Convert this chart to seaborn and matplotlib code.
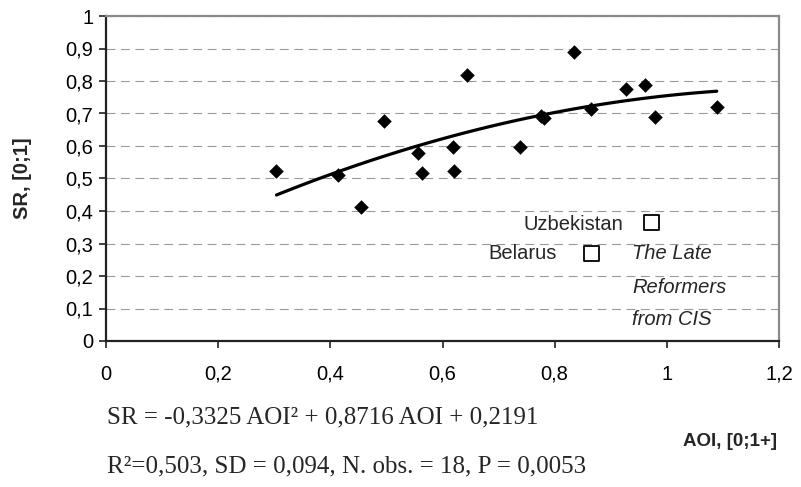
import matplotlib
matplotlib.use("Agg")
import matplotlib.pyplot as plt
import seaborn as sns
import numpy as np
from matplotlib.ticker import FuncFormatter, MultipleLocator

# data
aoi = [0.304, 0.414, 0.454, 0.496, 0.557, 0.564, 0.618, 0.621, 0.643,
       0.739, 0.776, 0.781, 0.834, 0.864, 0.928, 0.961, 0.979, 1.089]
sr = [0.523, 0.511, 0.413, 0.678, 0.579, 0.518, 0.598, 0.523, 0.818,
      0.598, 0.692, 0.685, 0.888, 0.714, 0.775, 0.788, 0.690, 0.719]

late_names = ['Uzbekistan', 'Belarus']
late_aoi = [0.973, 0.865]
late_sr = [0.365, 0.268]

eq_line1 = 'SR = -0,3325 AOI² + 0,8716 AOI + 0,2191'
eq_line2 = 'R²=0,503, SD = 0,094, N. obs. = 18, P = 0,0053'

sns.set_style("ticks")
plt.rcParams['font.family'] = ['Liberation Sans', 'DejaVu Sans']

W, H = 801, 487
fig = plt.figure(figsize=(W / 100, H / 100), dpi=100)
ax = fig.add_axes([106 / W, 1 - 341 / H, (779 - 106) / W, (341 - 16) / H])

# quadratic trend over the observations
sns.regplot(x=aoi, y=sr, order=2, ci=None, scatter=False, ax=ax,
            line_kws=dict(color='black', linewidth=2.3))
sns.scatterplot(x=aoi, y=sr, marker='D', s=55, color='black',
                edgecolor='black', linewidth=0, ax=ax, zorder=3)
sns.scatterplot(x=late_aoi, y=late_sr, marker='s', s=115, facecolor='none',
                edgecolor='black', linewidth=1.3, ax=ax, zorder=3)

# labels next to the late reformers
ax.text(0.922, 0.358, late_names[0], ha='right', va='center', fontsize=14.5)
ax.text(0.804, 0.270, late_names[1], ha='right', va='center', fontsize=14.5)
for txt, yy in zip(['The Late', 'Reformers', 'from CIS'], [0.270, 0.166, 0.066]):
    ax.text(0.938, yy, txt, ha='left', va='center', fontsize=14.5, style='italic')

ax.set_xlim(0, 1.2)
ax.set_ylim(0, 1)
ax.xaxis.set_major_locator(MultipleLocator(0.2))
ax.yaxis.set_major_locator(MultipleLocator(0.1))
fmt = FuncFormatter(lambda v, p: ('%g' % round(v, 2)).replace('.', ','))
ax.xaxis.set_major_formatter(fmt)
ax.yaxis.set_major_formatter(fmt)
ax.tick_params(axis='both', direction='out', length=5, width=1.2,
               color='#222222', labelsize=14.5, labelcolor='black')
ax.tick_params(axis='x', pad=12)
ax.tick_params(axis='y', pad=4)

ax.yaxis.grid(True, color='#9a9a9a', linewidth=0.8, linestyle=(0, (8, 5)))
ax.xaxis.grid(False)

for side in ['left', 'bottom']:
    ax.spines[side].set_color('#222222')
    ax.spines[side].set_linewidth(1.6)
for side in ['top', 'right']:
    ax.spines[side].set_visible(True)
    ax.spines[side].set_color('#8a8a8a')
    ax.spines[side].set_linewidth(1.6)

ax.set_ylabel('SR, [0;1]', fontsize=14.5, fontweight='bold')
ax.yaxis.set_label_coords(-0.11, 0.5)
ax.set_xlabel('AOI, [0;1+]', fontsize=13.5, fontweight='bold', ha='right', va='center')
ax.xaxis.set_label_coords(0.997, -0.308)

# regression equation under the chart
fig.text(107 / W, 1 - 423 / H, eq_line1, family='Liberation Serif',
         fontsize=18, va='baseline', ha='left')
fig.text(107 / W, 1 - 472 / H, eq_line2, family='Liberation Serif',
         fontsize=18, va='baseline', ha='left')

fig.savefig('out.png', dpi=100)
